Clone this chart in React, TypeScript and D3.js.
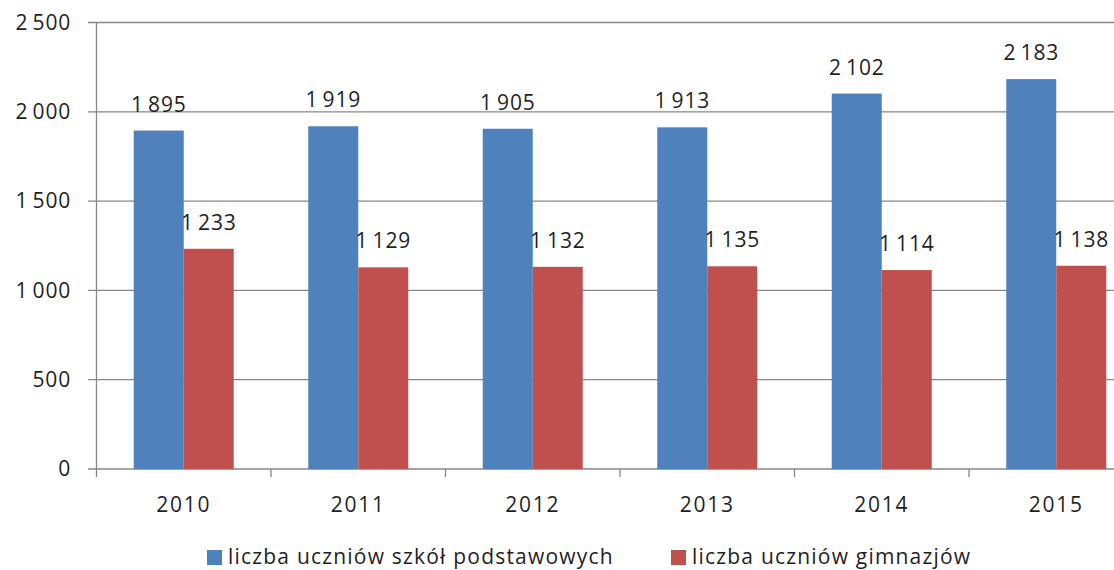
import React from 'react';
import * as d3 from 'd3';

const years = ['2010', '2011', '2012', '2013', '2014', '2015'];
const seriesNames = ['liczba uczniów szkół podstawowych', 'liczba uczniów gimnazjów'];
const primary = [1895, 1919, 1905, 1913, 2102, 2183];
const gymnasium = [1233, 1129, 1132, 1135, 1114, 1138];
const yTicks = [0, 500, 1000, 1500, 2000, 2500];
const colors = ['#4f81bd', '#c0504d'];

const fmt = (v: number) => {
  const s = String(v);
  return s.length > 3 ? s.slice(0, s.length - 3) + '\u2009' + s.slice(-3) : s;
};

const App = () => {
  const width = 1114;
  const height = 570;
  const left = 96.5;
  const step = 174.5;

  const x = d3.scaleBand<string>()
    .domain(years)
    .range([left, left + step * years.length])
    .padding(0);

  const xSub = d3.scaleBand<number>()
    .domain([0, 1])
    .range([(step - 100) / 2, (step - 100) / 2 + 100])
    .padding(0);

  const y = d3.scaleLinear()
    .domain([0, 2500])
    .range([469, 22.5]);

  const series = [primary, gymnasium];
  const font = "'Open Sans', sans-serif";
  const textColor = '#1f1f1f';

  return (
    <svg width={width} height={height} style={{ position: 'absolute', left: 0, top: 0 }}
      fontFamily={font}>
      <rect width={width} height={height} fill="#fff" />

      {yTicks.map(t => (
        <g key={t}>
          <line x1={88} x2={width} y1={y(t)} y2={y(t)} stroke="#878787" strokeWidth={1.3} />
          <text x={71} y={y(t)} dy="0.35em" textAnchor="end" fontSize={21}
            letterSpacing={0.8} fill={textColor}>{fmt(t)}</text>
        </g>
      ))}

      <line x1={left} x2={left} y1={y(2500)} y2={477} stroke="#878787" strokeWidth={1.3} />
      {years.map(yr => (
        <line key={yr} x1={x(yr)! + step} x2={x(yr)! + step} y1={y(0)} y2={477}
          stroke="#878787" strokeWidth={1.3} />
      ))}

      {years.map((yr, i) => (
        <g key={yr} transform={`translate(${x(yr)},0)`}>
          {series.map((vals, s) => (
            <g key={s}>
              <rect x={xSub(s)} width={xSub.bandwidth()} y={y(vals[i])}
                height={y(0) - y(vals[i])} fill={colors[s]} />
              <text x={xSub(s)! + xSub.bandwidth() / 2} y={y(vals[i]) - 19}
                textAnchor="middle" fontSize={21} letterSpacing={0.8}
                fill={textColor}>{fmt(vals[i])}</text>
            </g>
          ))}
          <text x={step / 2} y={512} textAnchor="middle" fontSize={21}
            letterSpacing={1.8} fill={textColor}>{yr}</text>
        </g>
      ))}

      {seriesNames.map((name, s) => {
        const lx = [207, 671][s];
        return (
          <g key={name}>
            <rect x={lx} y={550} width={15} height={15} fill={colors[s]} />
            <text x={lx + 21} y={564} fontSize={21} letterSpacing={1.2}
              fill={textColor}>{name}</text>
          </g>
        );
      })}
    </svg>
  );
};

export default App;
